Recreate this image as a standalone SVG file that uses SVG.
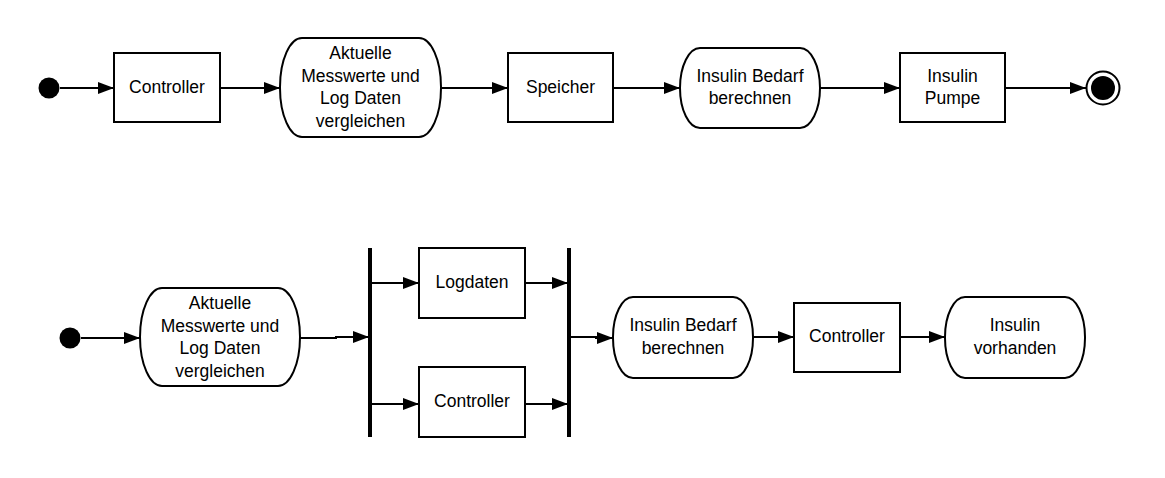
<svg xmlns="http://www.w3.org/2000/svg" width="1165" height="478" viewBox="0 0 1165 478">
<defs>
<marker id="arr" markerUnits="userSpaceOnUse" markerWidth="17" markerHeight="13" refX="16" refY="6.5" orient="auto">
<path d="M0,0.5 L16,6.5 L0,12.5 Z" fill="#000"/>
</marker>
<style>
.box{fill:#fff;stroke:#000;stroke-width:2}
.st{fill:#fff;stroke:#000;stroke-width:2}
.t{font-family:"Liberation Sans",Arial,sans-serif;font-size:17.5px;fill:#000;text-anchor:middle}
.c{fill:none;stroke:#000;stroke-width:2;marker-end:url(#arr)}
.bar{fill:#000}
</style>
</defs>
<rect width="1165" height="478" fill="#fff"/>
<g id="connectors">
<line class="c" x1="60" y1="88" x2="114" y2="88"/>
<line class="c" x1="220" y1="88" x2="280" y2="88"/>
<line class="c" x1="441" y1="88" x2="508" y2="88"/>
<line class="c" x1="613" y1="88" x2="680" y2="88"/>
<line class="c" x1="820" y1="88" x2="900" y2="88"/>
<line class="c" x1="1005" y1="88" x2="1086" y2="88"/>
<line class="c" x1="81" y1="338" x2="140" y2="338"/>
<polyline class="c" points="300,338 336,338 336,337 369,337"/>
<line class="c" x1="372" y1="283" x2="419" y2="283"/>
<line class="c" x1="372" y1="404" x2="419" y2="404"/>
<line class="c" x1="525" y1="283" x2="568" y2="283"/>
<line class="c" x1="525" y1="404" x2="568" y2="404"/>
<polyline class="c" points="571,337 596,337 596,338 613,338"/>
<line class="c" x1="753" y1="337" x2="794" y2="337"/>
<line class="c" x1="900" y1="337" x2="945" y2="337"/>
</g>
<g id="start1"><circle cx="49" cy="88" r="10.5" fill="#000"/></g>
<g id="controller1">
<rect class="box" x="114" y="53" width="106" height="69"/>
<text class="t" x="167" y="93">Controller</text>
</g>
<g id="vergleichen1">
<rect class="st" x="280" y="38" width="161" height="99" rx="22" ry="49"/>
<text class="t" x="360.5" y="59">Aktuelle</text>
<text class="t" x="360.5" y="81.5">Messwerte und</text>
<text class="t" x="360.5" y="104">Log Daten</text>
<text class="t" x="360.5" y="126.5">vergleichen</text>
</g>
<g id="speicher">
<rect class="box" x="508" y="53" width="105" height="69"/>
<text class="t" x="560.5" y="93">Speicher</text>
</g>
<g id="bedarf1">
<rect class="st" x="680" y="48" width="140" height="80" rx="20" ry="40"/>
<text class="t" x="750" y="81.5">Insulin Bedarf</text>
<text class="t" x="750" y="104">berechnen</text>
</g>
<g id="pumpe">
<rect class="box" x="900" y="53" width="105" height="69"/>
<text class="t" x="952.5" y="81.5">Insulin</text>
<text class="t" x="952.5" y="104">Pumpe</text>
</g>
<g id="end1">
<circle cx="1103" cy="88" r="16.5" fill="#fff" stroke="#000" stroke-width="2"/>
<circle cx="1103" cy="88" r="12" fill="#000"/>
</g>
<g id="start2"><circle cx="70" cy="338" r="10.5" fill="#000"/></g>
<g id="vergleichen2">
<rect class="st" x="140" y="288" width="160" height="98" rx="22" ry="49"/>
<text class="t" x="220" y="309">Aktuelle</text>
<text class="t" x="220" y="331.5">Messwerte und</text>
<text class="t" x="220" y="354">Log Daten</text>
<text class="t" x="220" y="376.5">vergleichen</text>
</g>
<g id="fork"><rect class="bar" x="368" y="248" width="4" height="189"/></g>
<g id="logdaten">
<rect class="box" x="419" y="248" width="106" height="70"/>
<text class="t" x="472" y="288">Logdaten</text>
</g>
<g id="controller2">
<rect class="box" x="419" y="367" width="106" height="70"/>
<text class="t" x="472" y="407">Controller</text>
</g>
<g id="join"><rect class="bar" x="567" y="248" width="4" height="189"/></g>
<g id="bedarf2">
<rect class="st" x="613" y="297" width="140" height="81" rx="20" ry="40"/>
<text class="t" x="683" y="331">Insulin Bedarf</text>
<text class="t" x="683" y="353.5">berechnen</text>
</g>
<g id="controller3">
<rect class="box" x="794" y="303" width="106" height="69"/>
<text class="t" x="847" y="342">Controller</text>
</g>
<g id="vorhanden">
<rect class="st" x="945" y="297" width="140" height="81" rx="20" ry="40"/>
<text class="t" x="1015" y="331">Insulin</text>
<text class="t" x="1015" y="353.5">vorhanden</text>
</g>
</svg>
